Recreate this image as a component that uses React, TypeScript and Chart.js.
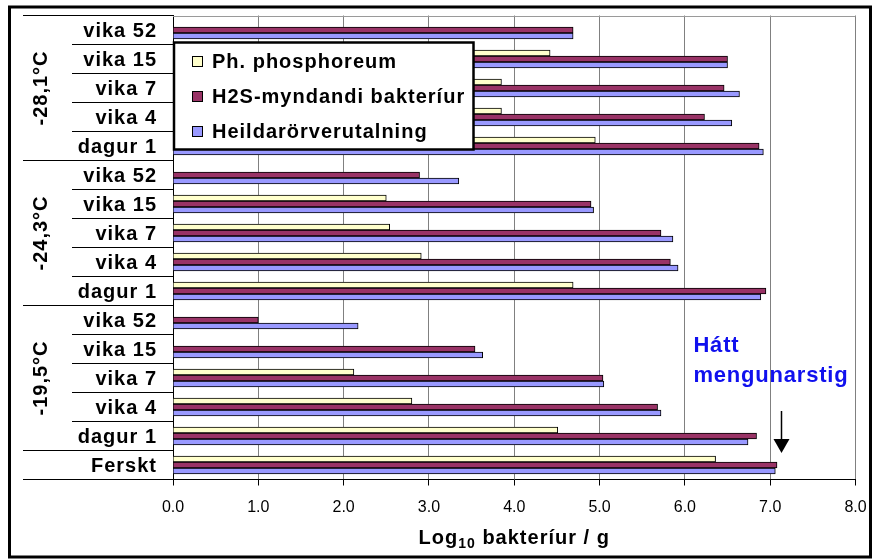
import React, { useEffect, useRef } from "react";
import { Chart, registerables } from "chart.js";

Chart.register(...registerables);

// ---------- data (top to bottom) ----------
const categories = [
  "vika 52", "vika 15", "vika 7", "vika 4", "dagur 1",
  "vika 52", "vika 15", "vika 7", "vika 4", "dagur 1",
  "vika 52", "vika 15", "vika 7", "vika 4", "dagur 1",
  "Ferskt",
];
const groupLabels = ["-28,1°C", "-24,3°C", "-19,5°C"];
const groupStarts = [0, 5, 10];
const groupEnds = [4, 9, 14];

const seriesNames = ["Ph. phosphoreum", "H2S-myndandi bakteríur", "Heildarörverutalning"];
const phosphoreum = [null, 4.42, 3.85, 3.85, 4.95, null, 2.5, 2.54, 2.91, 4.69, null, null, 2.12, 2.8, 4.51, 6.36];
const h2sBacteria = [4.69, 6.5, 6.46, 6.23, 6.87, 2.89, 4.9, 5.72, 5.83, 6.95, 1.0, 3.54, 5.04, 5.68, 6.84, 7.08];
const totalCount = [4.69, 6.5, 6.64, 6.55, 6.92, 3.35, 4.93, 5.86, 5.92, 6.89, 2.17, 3.63, 5.05, 5.72, 6.74, 7.06];
const seriesColors = ["#FFFFCC", "#993366", "#9999FF"];

const xMin = 0;
const xMax = 8;
const xStep = 1;
const annotationLines = ["Hátt", "mengunarstig"];
const annotationValue = 6.1;
const arrowValue = 7.13;

const FONT = "'Liberation Sans', Arial, Helvetica, sans-serif";

function setSpacing(ctx: any, px: number) {
  try {
    ctx.letterSpacing = px + "px";
  } catch (e) {}
}

const overlay = {
  id: "overlay",
  beforeDatasetsDraw(chart: any) {
    const { ctx, chartArea: a } = chart;
    ctx.save();
    ctx.strokeStyle = "#9a9a9a";
    ctx.lineWidth = 1;
    ctx.beginPath();
    ctx.moveTo(a.left, Math.round(a.top) + 0.5);
    ctx.lineTo(a.right, Math.round(a.top) + 0.5);
    ctx.stroke();
    ctx.restore();
  },
  afterDraw(chart: any) {
    const { ctx, chartArea: a } = chart;
    const ys = chart.scales.y;
    const xs = chart.scales.x;
    const n = categories.length;
    const boundary = (k: number) => ys.getPixelForValue(k - 0.5);

    ctx.save();
    // separator lines of the category axis
    const longLines = [0, 5, 10, 15, 16];
    ctx.strokeStyle = "#000";
    ctx.lineWidth = 1;
    for (let k = 0; k <= n; k++) {
      const y = Math.floor(boundary(k)) + 0.5;
      const x0 = longLines.includes(k) ? 23 : 72;
      ctx.beginPath();
      ctx.moveTo(x0, y);
      ctx.lineTo(a.left, y);
      ctx.stroke();
    }

    // category labels
    ctx.fillStyle = "#000";
    ctx.font = `bold 20px ${FONT}`;
    ctx.textBaseline = "middle";
    ctx.textAlign = "left";
    setSpacing(ctx, 1);
    for (let i = 0; i < n; i++) {
      const y = ys.getPixelForValue(i);
      const w = ctx.measureText(categories[i]).width;
      ctx.fillText(categories[i], 156 - w + 1, y + 1);
    }

    // group labels (rotated)
    for (let g = 0; g < groupLabels.length; g++) {
      const yc = (boundary(groupStarts[g]) + boundary(groupEnds[g] + 1)) / 2;
      ctx.save();
      ctx.translate(41, yc);
      ctx.rotate(-Math.PI / 2);
      ctx.textAlign = "center";
      ctx.textBaseline = "middle";
      ctx.fillText(groupLabels[g], 0, 0);
      ctx.restore();
    }

    // legend
    ctx.fillStyle = "#fff";
    ctx.fillRect(174, 42, 300, 108);
    ctx.strokeStyle = "#000";
    ctx.lineWidth = 2.5;
    ctx.strokeRect(174, 42.5, 299.5, 107);
    ctx.font = `bold 20px ${FONT}`;
    ctx.textBaseline = "middle";
    ctx.textAlign = "left";
    for (let i = 0; i < seriesNames.length; i++) {
      const yc = 61.5 + i * 35;
      ctx.fillStyle = seriesColors[i];
      ctx.fillRect(192, yc - 5.5, 11, 11);
      ctx.strokeStyle = "#000";
      ctx.lineWidth = 1;
      ctx.strokeRect(192.5, yc - 5, 10, 10);
      ctx.fillStyle = "#000";
      ctx.fillText(seriesNames[i], 212, yc + 1);
    }

    // annotation
    const ax = xs.getPixelForValue(annotationValue);
    ctx.fillStyle = "#1010EE";
    ctx.font = `bold 22px ${FONT}`;
    ctx.textBaseline = "alphabetic";
    setSpacing(ctx, 0.8);
    ctx.fillText(annotationLines[0], ax, 352);
    ctx.fillText(annotationLines[1], ax, 382);

    // arrow
    const arx = Math.round(xs.getPixelForValue(arrowValue)) + 0.5;
    ctx.strokeStyle = "#000";
    ctx.lineWidth = 1.5;
    ctx.beginPath();
    ctx.moveTo(arx, 411);
    ctx.lineTo(arx, 441);
    ctx.stroke();
    ctx.fillStyle = "#000";
    ctx.beginPath();
    ctx.moveTo(arx - 8, 439);
    ctx.lineTo(arx + 8, 439);
    ctx.lineTo(arx, 453);
    ctx.closePath();
    ctx.fill();

    // x-axis title with subscript
    setSpacing(ctx, 1);
    ctx.fillStyle = "#000";
    const big = `bold 20px ${FONT}`;
    const small = `bold 14px ${FONT}`;
    const p1 = "Log";
    const p2 = "10";
    const p3 = " bakteríur / g";
    ctx.font = big;
    const w1 = ctx.measureText(p1).width;
    const w3 = ctx.measureText(p3).width;
    ctx.font = small;
    const w2 = ctx.measureText(p2).width;
    const total = w1 + w2 + w3;
    let tx = (a.left + a.right) / 2 - total / 2;
    const ty = 544;
    ctx.textBaseline = "alphabetic";
    ctx.font = big;
    ctx.fillText(p1, tx, ty);
    tx += w1;
    ctx.font = small;
    ctx.fillText(p2, tx, ty + 4);
    tx += w2;
    ctx.font = big;
    ctx.fillText(p3, tx, ty);

    // outer frame
    setSpacing(ctx, 0);
    ctx.strokeStyle = "#000";
    ctx.lineWidth = 3;
    ctx.strokeRect(9.5, 7, 861, 550);
    ctx.restore();
  },
};

export default function App() {
  const ref = useRef<HTMLCanvasElement>(null);

  useEffect(() => {
    const canvas = ref.current;
    if (!canvas) return;
    const seriesData = [phosphoreum, h2sBacteria, totalCount];
    const chart = new Chart(canvas, {
      type: "bar",
      data: {
        labels: categories,
        datasets: seriesNames.map((name, i) => ({
          label: name,
          data: seriesData[i] as any,
          backgroundColor: seriesColors[i],
          borderColor: "#000",
          borderWidth: 1,
          barThickness: 6,
        })),
      },
      options: {
        indexAxis: "y",
        responsive: false,
        animation: false,
        devicePixelRatio: 1,
        layout: { padding: { top: 15.5, right: 16.5, left: 0, bottom: 0 } },
        plugins: { legend: { display: false }, tooltip: { enabled: false } },
        scales: {
          x: {
            min: xMin,
            max: xMax,
            ticks: {
              stepSize: xStep,
              callback: (v: any) => Number(v).toFixed(1),
              color: "#000",
              font: { family: FONT, size: 16 },
              padding: 12,
            },
            grid: { color: "#808080", tickColor: "#000", tickLength: 6, lineWidth: 1 },
            border: { color: "#000", width: 1 },
            afterFit: (s: any) => {
              s.height = 79.5;
              s.paddingLeft = 0;
              s.paddingRight = 0;
            },
          },
          y: {
            ticks: { display: false },
            grid: { display: false },
            border: { color: "#000", width: 1 },
            afterFit: (s: any) => {
              s.width = 173;
              s.paddingTop = 0;
              s.paddingBottom = 0;
            },
          },
        },
      } as any,
      plugins: [overlay],
    });
    return () => chart.destroy();
  }, []);

  return (
    <div style={{ position: "absolute", left: 0, top: 0, width: 872, height: 559, background: "#fff" }}>
      <canvas ref={ref} width={872} height={559} style={{ display: "block", width: 872, height: 559 }} />
    </div>
  );
}
